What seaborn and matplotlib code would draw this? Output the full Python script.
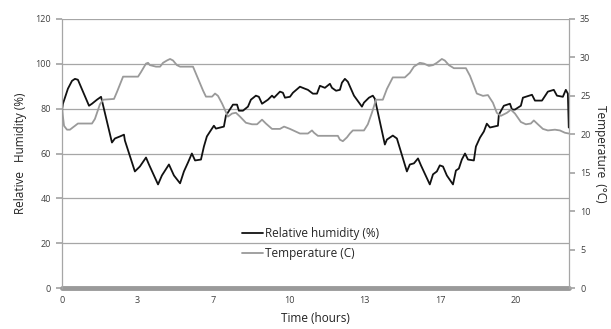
import matplotlib
matplotlib.use("Agg")
import matplotlib.pyplot as plt
import seaborn as sns
import numpy as np
import pandas as pd

# Relative humidity (%) vs time (hours)
rh_hours = [0.00, 0.01, 0.04, 0.13, 0.26, 0.44, 0.57, 0.70, 1.19, 1.32, 1.54, 1.72, 1.76,
            2.20, 2.33, 2.55, 2.73, 2.77, 3.21, 3.43, 3.70, 3.83, 4.23, 4.40, 4.71, 4.93,
            5.20, 5.37, 5.55, 5.72, 5.86, 6.12, 6.25, 6.38, 6.52, 6.69, 6.78, 7.13, 7.22,
            7.53, 7.71, 7.79, 7.97, 8.19, 8.32, 8.54, 8.67, 8.81, 9.07, 9.25, 9.34, 9.60,
            9.73, 9.82, 10.04, 10.17, 10.48, 10.70, 10.83, 11.05, 11.23, 11.36, 11.58,
            11.80, 11.89, 12.07, 12.24, 12.33, 12.46, 12.59, 12.86, 13.21, 13.30, 13.52,
            13.69, 13.78, 14.22, 14.31, 14.57, 14.75, 15.19, 15.32, 15.50, 15.68, 15.81,
            16.20, 16.34, 16.51, 16.64, 16.78, 16.95, 17.22, 17.35, 17.48, 17.61, 17.75,
            17.88, 18.14, 18.23, 18.41, 18.58, 18.71, 18.85, 19.20, 19.24, 19.46, 19.73,
            19.82, 19.95, 20.21, 20.30, 20.70, 20.83, 21.14, 21.40, 21.66, 21.80, 22.06,
            22.19, 22.28, 22.32]
rh_values = [67.1, 80.0, 82.2, 84.9, 88.9, 92.4, 93.3, 92.9, 81.3, 82.2, 84.0, 85.3, 83.6,
             64.9, 66.7, 67.6, 68.4, 65.8, 52.0, 54.2, 58.2, 55.1, 46.2, 50.2, 55.1, 50.2,
             46.7, 52.0, 56.0, 60.0, 56.9, 57.3, 63.1, 67.6, 69.8, 72.4, 71.1, 72.0, 76.9,
             81.8, 81.8, 79.1, 79.1, 80.9, 84.0, 85.8, 85.3, 82.2, 84.0, 85.8, 84.9, 87.6,
             87.1, 84.9, 85.3, 87.1, 89.8, 88.9, 88.4, 86.7, 86.7, 90.2, 89.3,
             91.1, 89.3, 88.0, 88.4, 91.6, 93.3, 92.0, 85.8, 80.9, 82.7, 84.9,
             85.8, 84.4, 64.0, 66.2, 68.0, 66.7, 52.0, 55.1, 55.6, 57.8, 54.7,
             46.2, 50.7, 52.0, 54.7, 54.2, 50.2, 46.2, 52.4, 53.3, 57.3, 60.0,
             57.3, 56.9, 63.1, 67.1, 69.8, 73.3, 71.6, 72.4, 77.3, 81.3, 82.2,
             79.6, 79.6, 81.3, 84.9, 86.2, 83.6, 83.6, 87.6, 88.4, 85.8, 85.3,
             88.4, 86.7, 71.6]

# Temperature (C) vs time (hours)
t_hours = [0.00, 0.09, 0.22, 0.35, 0.48, 0.57, 0.70, 1.32, 1.45, 1.67, 1.81, 2.29, 2.42,
           2.69, 3.35, 3.48, 3.70, 3.79, 3.87, 4.14, 4.32, 4.45, 4.62, 4.76, 4.89, 5.06,
           5.20, 5.77, 6.21, 6.34, 6.61, 6.74, 6.87, 7.05, 7.31, 7.49, 7.66, 7.84, 8.10,
           8.37, 8.59, 8.81, 8.98, 9.25, 9.60, 9.78, 10.04, 10.26, 10.48, 10.83, 11.01,
           11.10, 11.27, 12.15, 12.24, 12.37, 12.55, 12.68, 12.81, 13.30, 13.47, 13.65,
           13.83, 14.13, 14.31, 14.57, 15.10, 15.32, 15.50, 15.76, 15.94, 16.16, 16.34,
           16.51, 16.73, 16.86, 17.04, 17.26, 17.79, 17.97, 18.27, 18.54, 18.76, 18.98,
           19.15, 19.33, 19.60, 19.77, 19.95, 20.21, 20.43, 20.65, 20.78, 20.96, 21.18,
           21.40, 21.71, 21.93, 22.15, 22.32]
t_values = [23.3, 21.1, 20.6, 20.6, 20.9, 21.1, 21.4, 21.4, 22.0, 23.9, 24.5, 24.6, 25.5,
            27.5, 27.5, 28.1, 29.2, 29.3, 29.0, 28.8, 28.8, 29.3, 29.6, 29.8, 29.6, 29.0,
            28.8, 28.8, 25.7, 24.9, 24.9, 25.3, 25.0, 24.0, 22.3, 22.7, 22.8, 22.3, 21.5,
            21.3, 21.3, 21.9, 21.4, 20.7, 20.7, 21.0, 20.7, 20.4, 20.1, 20.1, 20.5,
            20.2, 19.8, 19.8, 19.3, 19.1, 19.6, 20.1, 20.5, 20.5, 21.3, 22.8,
            24.5, 24.5, 25.9, 27.4, 27.4, 28.0, 28.8, 29.3, 29.2, 28.9, 29.0,
            29.3, 29.8, 29.6, 29.0, 28.6, 28.6, 27.6, 25.3, 25.0, 25.1, 24.1,
            22.8, 22.4, 22.8, 23.2, 22.7, 21.6, 21.3, 21.4, 21.8, 21.3, 20.7,
            20.5, 20.6, 20.5, 20.2, 20.1]

xtick_pos = [0, 10/3, 20/3, 10, 40/3, 50/3, 20]
xtick_labels = ["0", "3", "7", "10", "13", "17", "20"]

rh_df = pd.DataFrame({"hours": rh_hours, "rh": rh_values})
t_df = pd.DataFrame({"hours": t_hours, "temp": t_values})

sns.set_theme(style="white")
plt.rcParams['font.family'] = ['Open Sans', 'DejaVu Sans']

fig = plt.figure(figsize=(6.11, 3.29), dpi=100)
ax = fig.add_axes([62/611, 1-288/329, (569-62)/611, (288-19)/329])
ax2 = ax.twinx()

grid_c = "#a6a6a6"
tick_c = "#404040"

sns.lineplot(data=rh_df, x="hours", y="rh", ax=ax, color="#111111", lw=1.3,
             label="Relative humidity (%)", legend=False, estimator=None, sort=False)
sns.lineplot(data=t_df, x="hours", y="temp", ax=ax2, color="#9a9a9a", lw=1.3,
             label="Temperature (C)", legend=False, estimator=None, sort=False)

ax.set_xlim(0, 22.33)
ax.set_ylim(0, 120)
ax2.set_ylim(0, 35)
ax.set_yticks(range(0, 121, 20))
ax2.set_yticks(range(0, 36, 5))
ax.set_xticks(xtick_pos)
ax.set_xticklabels(xtick_labels)

for y in range(20, 121, 20):
    ax.axhline(y, color=grid_c, lw=0.9, zorder=0)

for a in (ax, ax2):
    for s in a.spines.values():
        s.set_visible(False)
ax.spines["left"].set_visible(True)
ax.spines["left"].set_color(grid_c)
ax.spines["left"].set_linewidth(0.9)
ax2.spines["right"].set_visible(True)
ax2.spines["right"].set_color(grid_c)
ax2.spines["right"].set_linewidth(0.9)
ax.axhline(0, color="#9a9a9a", lw=3.5, zorder=1, clip_on=False)

ax.tick_params(axis="y", length=4, color=grid_c, labelsize=6.5, labelcolor=tick_c, pad=4,
               left=True)
ax2.tick_params(axis="y", length=4, color=grid_c, labelsize=6.5, labelcolor=tick_c, pad=4,
                right=True)
ax.tick_params(axis="x", length=0, labelsize=6.5, labelcolor=tick_c, pad=6)

ax.set_xlabel("Time (hours)", fontsize=8.5, color="#222222", labelpad=5)
ax.set_ylabel("Relative   Humidity (%)", fontsize=8.5, color="#222222", labelpad=6)
ax2.set_ylabel("Temperature  (°C)", fontsize=8.5, color="#222222", rotation=-90, labelpad=12)

h1, lab1 = ax.get_legend_handles_labels()
h2, lab2 = ax2.get_legend_handles_labels()
ax2.legend(h1 + h2, lab1 + lab2, loc="upper left", bbox_to_anchor=(0.345, 0.245),
           frameon=False, fontsize=8.5, handlelength=1.8, handletextpad=0.15,
           labelspacing=0.6, borderaxespad=0)

fig.savefig("out.png", dpi=100)
